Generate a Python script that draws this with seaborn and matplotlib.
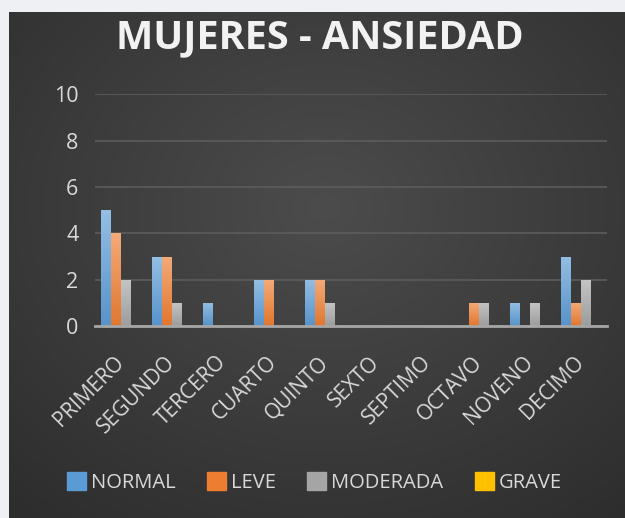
import numpy as np
import pandas as pd
import matplotlib
matplotlib.use('Agg')
import matplotlib.pyplot as plt
import matplotlib.colors as mcolors
from matplotlib.patches import Patch, Rectangle
import seaborn as sns

# datos
cursos = ['PRIMERO', 'SEGUNDO', 'TERCERO', 'CUARTO', 'QUINTO',
          'SEXTO', 'SEPTIMO', 'OCTAVO', 'NOVENO', 'DECIMO']
normal = [5, 3, 1, 2, 2, 0, 0, 0, 1, 3]
leve = [4, 3, 0, 2, 2, 0, 0, 1, 0, 1]
moderada = [2, 1, 0, 0, 1, 0, 0, 1, 1, 2]
grave = [0, 0, 0, 0, 0, 0, 0, 0, 0, 0]
niveles = ['NORMAL', 'LEVE', 'MODERADA', 'GRAVE']
colores = ['#5b9bd5', '#ed7d31', '#a5a5a5', '#ffc000']
y_ticks = [0, 2, 4, 6, 8, 10]

plt.rcParams['font.family'] = ['Open Sans', 'DejaVu Sans']
texto = '#d9d9d9'

df = pd.DataFrame({
    'curso': cursos * 4,
    'nivel': [n for n in niveles for _ in cursos],
    'valor': normal + leve + moderada + grave,
})

fig = plt.figure(figsize=(6.25, 5.18), dpi=100, facecolor='#333333')

# fondo oscuro con degradado radial
bg = fig.add_axes([0, 0, 1, 1])
yy, xx = np.mgrid[0:1:300j, 0:1:300j]
r = np.sqrt((xx - 0.52) ** 2 + (yy - 0.4) ** 2) / 0.85
cmap_bg = mcolors.LinearSegmentedColormap.from_list('bg', ['#4c4c4c', '#2a2a2a'])
bg.imshow(r, cmap=cmap_bg, vmin=0, vmax=1, aspect='auto',
          extent=[0, 1, 0, 1], interpolation='bilinear')
bg.set_xlim(0, 1)
bg.set_ylim(0, 1)
bg.set_axis_off()
# marco claro arriba y a la izquierda
fig.patches.append(Rectangle((0, 1 - 12 / 518), 1, 12 / 518, transform=fig.transFigure,
                             facecolor='#eef0f3', edgecolor='none', zorder=5))
fig.patches.append(Rectangle((0, 0), 9 / 625, 1, transform=fig.transFigure,
                             facecolor='#eef0f3', edgecolor='none', zorder=5))

ax = fig.add_axes([0.152, 0.3707, 0.819, 0.447])
ax.patch.set_alpha(0)
sns.barplot(data=df, x='curso', y='valor', hue='nivel', palette=colores,
            width=0.78, saturation=1, ax=ax, legend=False, zorder=2)

# degradado vertical en cada barra
for p in list(ax.patches):
    h = p.get_height()
    if h <= 0:
        continue
    base = np.array(mcolors.to_rgb(p.get_facecolor()))
    top = base + (1 - base) * 0.35
    bottom = base * 0.95
    grad = np.linspace(0, 1, 64)[:, None, None]
    img = top * (1 - grad) + bottom * grad
    x0 = p.get_x()
    im = ax.imshow(img, extent=[x0, x0 + p.get_width(), 0, h],
                   aspect='auto', zorder=2.5)
    im.set_clip_path(p)
    p.set_facecolor('none')

ax.set_xlim(-0.5, len(cursos) - 0.5)
ax.set_ylim(0, 10)
ax.set_yticks(y_ticks)
ax.set_xlabel('')
ax.set_ylabel('')
ax.yaxis.grid(True, color='#5a5a5a', linewidth=1.3)
ax.set_axisbelow(True)
for s in ['top', 'right', 'left']:
    ax.spines[s].set_visible(False)
ax.spines['bottom'].set_color('#a6a6a6')
ax.spines['bottom'].set_linewidth(2)
ax.spines['bottom'].set_zorder(3)
ax.tick_params(axis='y', length=0, pad=12, labelsize=15.5, labelcolor=texto)
ax.tick_params(axis='x', length=0, pad=24, labelsize=15, labelcolor=texto)
plt.setp(ax.get_xticklabels(), rotation=45, ha='right', va='center',
         rotation_mode='anchor')

fig.text(0.511, 1 - 48 / 518, 'MUJERES - ANSIEDAD', ha='center', va='baseline',
         fontsize=28.5, fontweight='bold', color='#f2f2f2')

handles = [Patch(facecolor=c, edgecolor=c) for c in colores]
fig.legend(handles, niveles, loc='center', bbox_to_anchor=(0.503, 0.068),
           ncol=4, frameon=False, fontsize=14.5, labelcolor=texto,
           handlelength=0.95, handleheight=0.95, handletextpad=0.25,
           columnspacing=1.55)

fig.savefig('out.png', dpi=100, facecolor=fig.get_facecolor())
